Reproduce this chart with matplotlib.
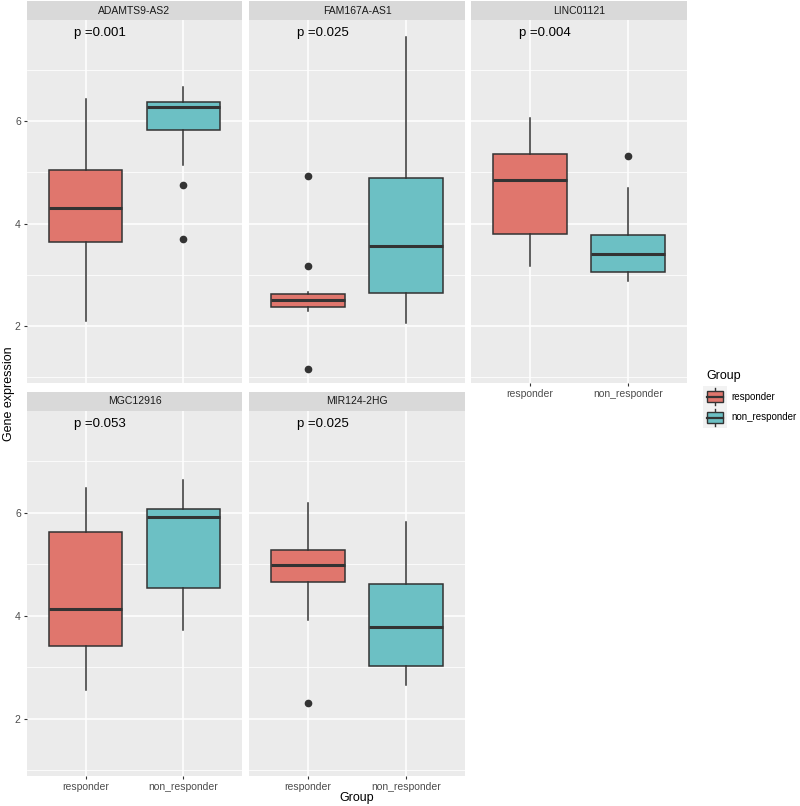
import numpy as np
import matplotlib.pyplot as plt
from matplotlib.patches import Rectangle

#----------------------------------
# Datos
genes = ['ADAMTS9-AS2', 'FAM167A-AS1', 'LINC01121', 'MGC12916', 'MIR124-2HG']
pvals = ['p =0.001', 'p =0.025', 'p =0.004', 'p =0.053', 'p =0.025']
grupos = ['responder', 'non_responder']

# [responder, non_responder]
whislo = [[2.10, 5.14], [2.30, 2.06], [3.18, 2.88], [2.56, 3.72], [3.92, 2.65]]
q1 = [[3.64, 5.82], [2.37, 2.64], [3.79, 3.05], [3.42, 4.54], [4.65, 3.03]]
med = [[4.30, 6.27], [2.50, 3.56], [4.85, 3.41], [4.13, 5.92], [4.98, 3.78]]
q3 = [[5.05, 6.38], [2.62, 4.88], [5.35, 3.77], [5.63, 6.07], [5.28, 4.61]]
whishi = [[6.42, 6.66], [2.66, 7.63], [6.05, 4.69], [6.47, 6.63], [6.19, 5.81]]
fliers = [[[], [4.75, 3.70]],
          [[4.92, 3.18, 1.16], []],
          [[], [5.31]],
          [[], []],
          [[2.31], []]]

#--------------------------------
plt.rcParams['font.family'] = ['Liberation Sans', 'DejaVu Sans']

col_resp = '#E0766D'
col_non = '#6CC0C4'
colores = [col_resp, col_non]
fondo = '#EBEBEB'
tira = '#D9D9D9'
gris = '#4D4D4D'

W, H = 800., 806.
fig = plt.figure(figsize=(8, 8.06), dpi=100)

# posiciones de paneles en pixeles (x0, x1, y0, y1)
cols = [(27, 242), (249, 465), (471, 687)]
filas = [(20, 383), (411, 776)]
strip_h = 19

def px(x0, x1, y0, y1):
    return (x0/W, 1-y1/H, (x1-x0)/W, (y1-y0)/H)

for i, g in enumerate(genes):
    r, c = divmod(i, 3)
    x0, x1 = cols[c]
    y0, y1 = filas[r]
    ax = fig.add_axes(px(x0, x1, y0, y1))
    ax.set_facecolor(fondo)
    for s in ax.spines.values():
        s.set_visible(False)

    stats = []
    for j in range(2):
        stats.append(dict(whislo=whislo[i][j], q1=q1[i][j], med=med[i][j],
                          q3=q3[i][j], whishi=whishi[i][j], fliers=fliers[i][j]))
    bp = ax.bxp(stats, positions=[1, 2], widths=0.75, patch_artist=True,
                showcaps=False,
                boxprops=dict(edgecolor='#333333', linewidth=1.1),
                medianprops=dict(color='#333333', linewidth=2.2),
                whiskerprops=dict(color='#333333', linewidth=1.1),
                flierprops=dict(marker='o', markerfacecolor='#333333',
                                markeredgecolor='#333333', markersize=4.5))
    for patch, cc in zip(bp['boxes'], colores):
        patch.set_facecolor(cc)
    for el in bp['boxes'] + bp['medians'] + bp['whiskers'] + bp['fliers']:
        el.set_zorder(3)

    ax.set_xlim(0.4, 2.6)
    ax.set_ylim(0.89, 7.97)
    ax.set_yticks([2, 4, 6])
    ax.set_yticks([1, 3, 5, 7], minor=True)
    ax.set_xticks([1, 2])
    ax.grid(which='major', color='white', linewidth=1.1, zorder=0)
    ax.grid(which='minor', axis='y', color='white', linewidth=0.55, zorder=0)
    ax.set_axisbelow(True)
    ax.tick_params(which='minor', length=0)
    ax.tick_params(which='major', length=2.5, color='#333333', width=0.8,
                   labelsize=7.5, labelcolor=gris, pad=2)
    if c == 0:
        ax.set_yticklabels(['2', '4', '6'])
    else:
        ax.tick_params(axis='y', labelleft=False, length=0)
    if r == 1 or c == 2:
        ax.set_xticklabels(grupos)
    else:
        ax.tick_params(axis='x', labelbottom=False, length=0)

    ax.text(1.15, 7.72, pvals[i], ha='center', va='center', fontsize=9.5,
            color='black', zorder=5)

    # tira del facet
    axs = fig.add_axes(px(x0, x1, y0-strip_h, y0))
    axs.set_facecolor(tira)
    axs.set_xticks([]); axs.set_yticks([])
    for s in axs.spines.values():
        s.set_visible(False)
    axs.text(0.5, 0.5, g, ha='center', va='center', fontsize=7.5, color='#1A1A1A',
             transform=axs.transAxes)

#--------------------------------
# Etiquetas de ejes
fig.text(9/W, 1-394/H, 'Gene expression', rotation=90, ha='center', va='center',
         fontsize=9)
fig.text(357/W, 1-798/H, 'Group', ha='center', va='center', fontsize=9)

# Leyenda
fig.text(706/W, 1-376/H, 'Group', ha='left', va='center', fontsize=9)
axl = fig.add_axes((703/W, 1-428/H, 24/W, 42/H))
axl.set_xlim(0, 1); axl.set_ylim(0, 2)
axl.axis('off')
for k, (lab, cc) in enumerate(zip(grupos, colores)):
    yb = 1 - k
    axl.add_patch(Rectangle((0.02, yb+0.02), 0.96, 0.96, facecolor='#F2F2F2',
                            edgecolor='none'))
    axl.plot([0.5, 0.5], [yb+0.08, yb+0.92], color='#333333', linewidth=1.0)
    axl.add_patch(Rectangle((0.15, yb+0.25), 0.7, 0.5, facecolor=cc,
                            edgecolor='#333333', linewidth=1.0, zorder=3))
    axl.plot([0.15, 0.85], [yb+0.5, yb+0.5], color='#333333', linewidth=1.6,
             zorder=4)
    fig.text(731/W, 1-(397+20*k)/H, lab, ha='left', va='center', fontsize=7,
             color='black')

plt.savefig('out.png', dpi=100)
